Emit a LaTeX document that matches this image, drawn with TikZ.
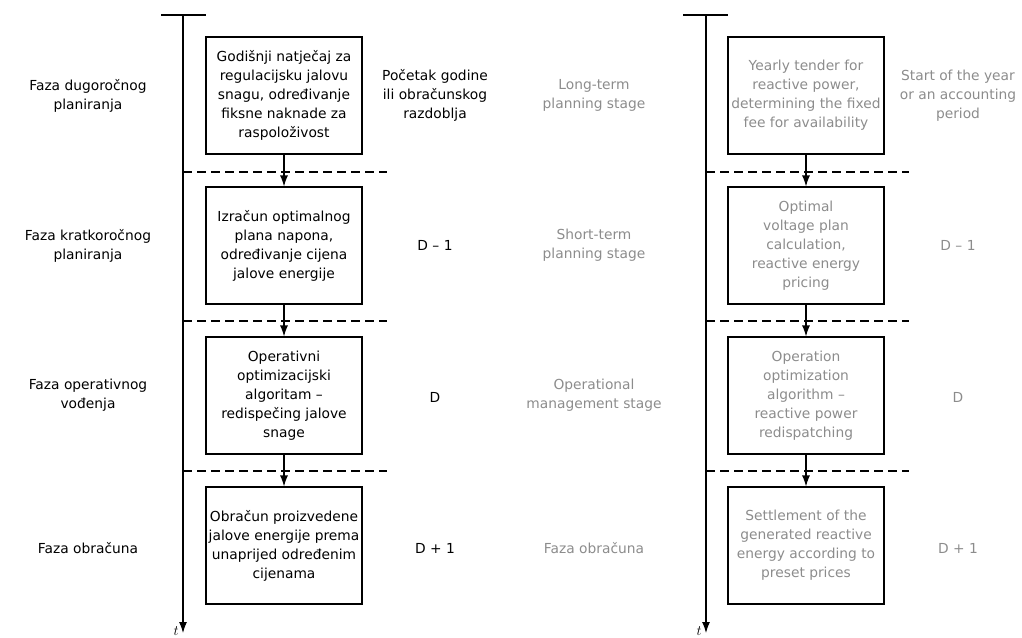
\documentclass[tikz,border=0pt]{standalone}
\usepackage{fontspec}
\setmainfont{DejaVu Sans}
\usetikzlibrary{arrows.meta}
\definecolor{engray}{RGB}{140,140,140}

\begin{document}
\begin{tikzpicture}[x=1pt, y=-1pt, >={Latex[length=11pt,width=8pt]},
  stagebox/.style={draw, line width=1.1pt, minimum width=156pt, minimum height=117pt,
    inner sep=0pt, align=center, font=\fontsize{13.8}{19}\selectfont},
  sidetext/.style={align=center, font=\fontsize{13.8}{19}\selectfont},
  phaseline/.style={line width=1.8pt, dash pattern=on 9pt off 5pt},
  timeaxis/.style={line width=1.1pt}]

% --- Granice slike ---
\useasboundingbox (0,0) rectangle (1022,637);

% --- Parametri ---
\def\xl{183}    % lijeva os vremena
\def\xr{706}    % desna os vremena
\def\ytop{15}   % vrh osi
\def\yend{633}  % kraj strelice

% --- Osi vremena ---
\coordinate (topL) at (\xl,\ytop);
\coordinate (endL) at (\xl,\yend);
\coordinate (topR) at (\xr,\ytop);
\coordinate (endR) at (\xr,\yend);
\draw[timeaxis] (\xl-22,\ytop) -- (\xl+23,\ytop);
\draw[timeaxis] (\xr-23,\ytop) -- (\xr+22,\ytop);
\draw[timeaxis,->] (topL) -- (endL);
\draw[timeaxis,->] (topR) -- (endR);
\node[anchor=base east, inner sep=0pt, font=\fontsize{15}{15}\selectfont] (tL) at (\xl-4,635) {$t$};
\node[anchor=base east, inner sep=0pt, font=\fontsize{15}{15}\selectfont] (tR) at (\xr-4,635) {$t$};

% --- Lijevi stupac: hrvatski ---
\foreach \j/\yc/\txt in {
    1/95.5/{Godišnji natječaj za\\regulacijsku jalovu\\snagu, određivanje\\fiksne naknade za\\raspoloživost},
    2/245.5/{Izračun optimalnog\\plana napona,\\određivanje cijena\\jalove energije},
    3/395.5/{Operativni\\optimizacijski\\algoritam –\\redispečing jalove\\snage},
    4/545.5/{Obračun proizvedene\\jalove energije prema\\unaprijed određenim\\cijenama}} {
  \node[stagebox] (hr\j) at (284,\yc) {\txt};
}

% --- Desni stupac: engleski ---
\foreach \j/\yc/\txt in {
    1/95.5/{Yearly tender for\\reactive power,\\determining the fixed\\fee for availability},
    2/245.5/{Optimal\\voltage plan\\calculation,\\reactive energy\\pricing},
    3/395.5/{Operation\\optimization\\algorithm –\\reactive power\\redispatching},
    4/545.5/{Settlement of the\\generated reactive\\energy according to\\preset prices}} {
  \node[stagebox, text=engray] (en\j) at (806,\yc) {\txt};
}

% --- Strelice izmedu faza ---
\foreach \i/\j in {1/2, 2/3, 3/4} {
  \draw[line width=1.1pt,->] (hr\i.south) -- (hr\j.north);
  \draw[line width=1.1pt,->] (en\i.south) -- (en\j.north);
}

% --- Granice faza ---
\foreach \yd in {172, 321, 471} {
  \draw[phaseline] (\xl,\yd) -- (387,\yd);
  \draw[phaseline] (\xr,\yd) -- (909,\yd);
}

% --- Nazivi faza ---
\foreach \j/\yc/\txt in {
    1/95.5/{Faza dugoročnog\\planiranja},
    2/245.5/{Faza kratkoročnog\\planiranja},
    3/395.5/{Faza operativnog\\vođenja},
    4/548/{Faza obračuna}} {
  \node[sidetext] (faza\j) at (88,\yc) {\txt};
}
\foreach \j/\yc/\txt in {
    1/95.5/{Long-term\\planning stage},
    2/245.5/{Short-term\\planning stage},
    3/395.5/{Operational\\management stage},
    4/548/{Faza obračuna}} {
  \node[sidetext, text=engray] (stage\j) at (594,\yc) {\txt};
}

% --- Vremenski trenuci ---
\foreach \j/\yc/\txt in {
    1/95.5/{Početak godine\\ili obračunskog\\razdoblja},
    2/245.5/{D – 1},
    3/397/{D},
    4/548/{D + 1}} {
  \node[sidetext] (vrijeme\j) at (435,\yc) {\txt};
}
\foreach \j/\yc/\txt in {
    1/95.5/{Start of the year\\or an accounting\\period},
    2/245.5/{D – 1},
    3/397/{D},
    4/548/{D + 1}} {
  \node[sidetext, text=engray] (time\j) at (958,\yc) {\txt};
}

\end{tikzpicture}
\end{document}
